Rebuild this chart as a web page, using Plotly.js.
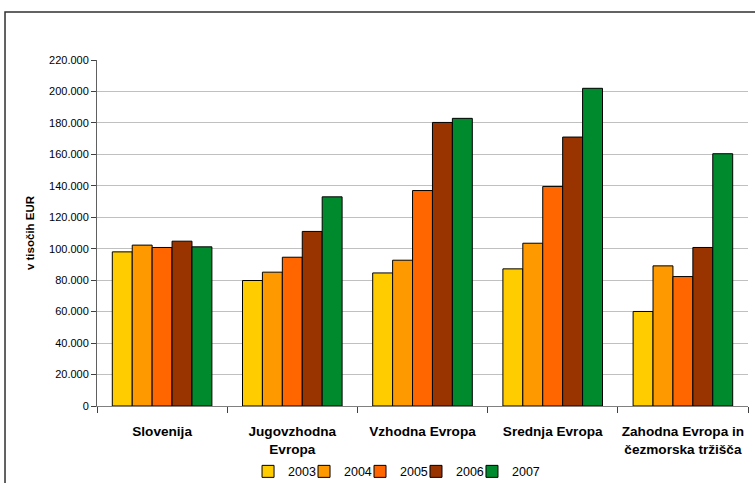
<!DOCTYPE html>
<html>
<head>
<meta charset="utf-8">
<script src="https://cdn.plot.ly/plotly-3.0.1.min.js"></script>
<style>
  html, body { margin: 0; padding: 0; background: #ffffff; }
  #chart { width: 755px; height: 483px; }
</style>
</head>
<body>
<div id="chart"></div>
<script>
// Categories (regions)
const categories = [
  "Slovenija",
  "Jugovzhodna<br>Evropa",
  "Vzhodna Evropa",
  "Srednja Evropa",
  "Zahodna Evropa in<br>čezmorska tržišča"
];

// Series names
const years = ["2003", "2004", "2005", "2006", "2007"];

// Values in thousand EUR
const v2003 = [98000, 79800, 84600, 87200, 60100];
const v2004 = [102300, 85100, 92700, 103500, 89100];
const v2005 = [100800, 94600, 137000, 139600, 82300];
const v2006 = [104800, 111000, 180300, 171000, 100800];
const v2007 = [101200, 133000, 182900, 202000, 160400];

const seriesValues = [v2003, v2004, v2005, v2006, v2007];
const colors = ["#FFCC00", "#FF9900", "#FF6600", "#993300", "#008A2E"];

const yTicks = [0, 20000, 40000, 60000, 80000, 100000, 120000, 140000, 160000, 180000, 200000, 220000];

const fontFam = "'Liberation Sans', Arial, sans-serif";

const legendIds = ["legend", "legend2", "legend3", "legend4", "legend5"];

const traces = years.map((yr, i) => ({
  type: "bar",
  name: yr,
  x: categories,
  y: seriesValues[i],
  legend: legendIds[i],
  marker: { color: colors[i], line: { color: "#000000", width: 1 } },
  hoverinfo: "x+y+name"
}));

const layout = {
  width: 755,
  height: 483,
  margin: { l: 97, r: 7, t: 60, b: 77, autoexpand: false },
  paper_bgcolor: "#ffffff",
  plot_bgcolor: "#ffffff",
  separators: ",.",
  barmode: "group",
  bargap: 0.235,
  bargroupgap: 0,
  font: { family: fontFam, color: "#000000" },
  xaxis: {
    type: "category",
    showgrid: false,
    showline: true,
    linecolor: "#808080",
    linewidth: 1,
    ticks: "outside",
    tickson: "boundaries",
    ticklen: 6,
    tickcolor: "#404040",
    tickangle: 0,
    tickfont: { family: fontFam, size: 13.6, color: "#000000", weight: "bold" },
    ticklabelstandoff: 13,
    automargin: false,
    fixedrange: true
  },
  yaxis: {
    range: [0, 220000],
    tickmode: "array",
    tickvals: yTicks,
    tickformat: ",d",
    showgrid: true,
    gridcolor: "#c0c0c0",
    gridwidth: 1,
    zeroline: false,
    showline: true,
    linecolor: "#606060",
    linewidth: 1,
    ticks: "outside",
    ticklen: 5,
    tickcolor: "#404040",
    tickfont: { family: fontFam, size: 11, color: "#000000" },
    title: {
      text: "v tisočih EUR",
      font: { family: fontFam, size: 11.5, color: "#000000", weight: "bold" },
      standoff: 12
    },
    automargin: false,
    fixedrange: true
  },
  shapes: [{
    type: "rect",
    xref: "paper", yref: "paper",
    x0: -0.1413, x1: 1.2,
    y0: -0.5, y1: 1.1387,
    line: { color: "#303030", width: 1.5 },
    fillcolor: "rgba(0,0,0,0)",
    layer: "below"
  }],
  showlegend: true
};

// one small legend per series, laid out in a row under the plot
legendIds.forEach((id, i) => {
  layout[id] = {
    orientation: "h",
    x: 0.232 + i * 0.086,
    xanchor: "left",
    y: -0.19,
    yanchor: "middle",
    bgcolor: "rgba(255,255,255,0)",
    font: { family: fontFam, size: 12.5, color: "#000000" }
  };
});

Plotly.newPlot("chart", traces, layout, { displayModeBar: false, staticPlot: true });
</script>
</body>
</html>
